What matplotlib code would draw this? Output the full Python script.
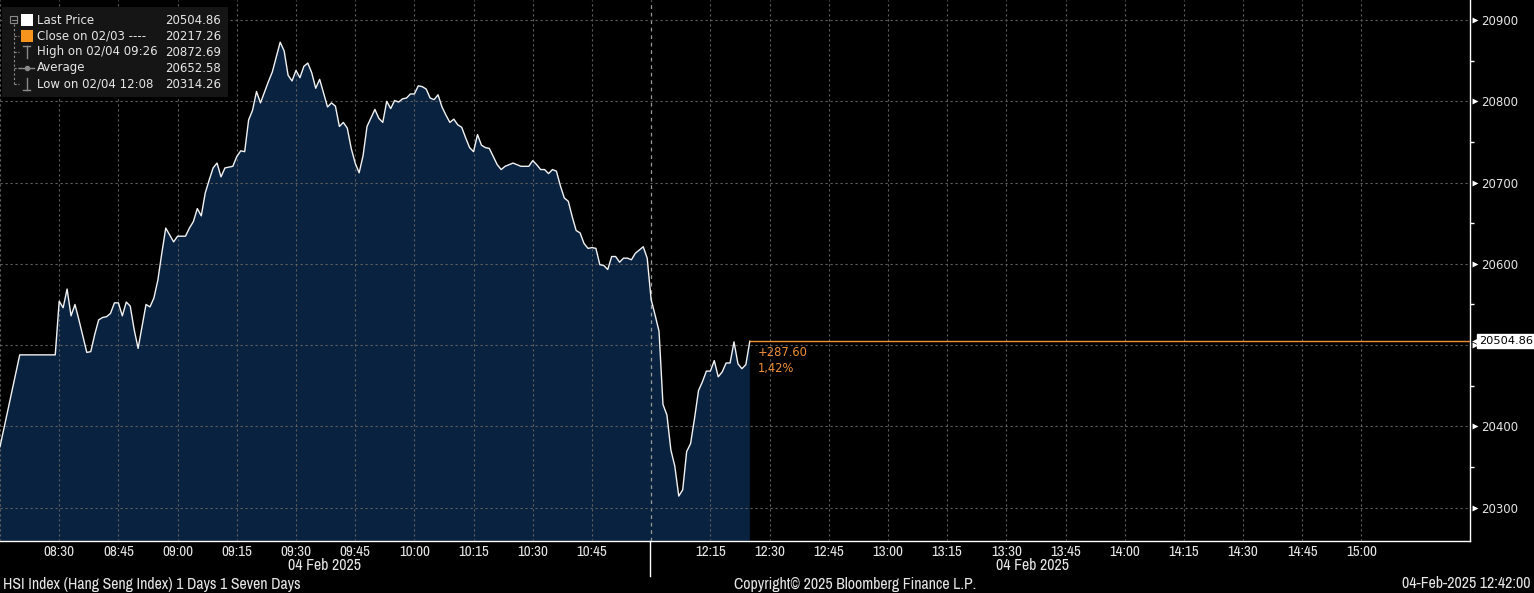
import matplotlib
matplotlib.use("Agg")
import matplotlib.pyplot as plt
from matplotlib import font_manager
from matplotlib.patches import Rectangle
from matplotlib.lines import Line2D

# intraday HSI, times as shown on the chart
times = ["08:15", "08:20", "08:29", "08:30", "08:31", "08:32", "08:33", "08:34", "08:35", "08:36",
         "08:37", "08:38", "08:39", "08:40", "08:41", "08:42", "08:43", "08:44", "08:45", "08:46",
         "08:47", "08:48", "08:49", "08:50", "08:52", "08:53", "08:54", "08:55", "08:56", "08:57",
         "08:59", "09:00", "09:02", "09:03", "09:04", "09:05", "09:06", "09:07", "09:08", "09:09",
         "09:10", "09:11", "09:12", "09:14", "09:15", "09:16", "09:17", "09:18", "09:19", "09:20",
         "09:21", "09:22", "09:23", "09:24", "09:26", "09:27", "09:28", "09:29", "09:30", "09:31",
         "09:32", "09:33", "09:34", "09:35", "09:36", "09:37", "09:38", "09:39", "09:40", "09:41",
         "09:42", "09:43", "09:44", "09:45", "09:46", "09:47", "09:48", "09:50", "09:51", "09:52",
         "09:53", "09:54", "09:55", "09:56", "09:57", "09:58", "09:59", "10:00", "10:01", "10:02",
         "10:03", "10:04", "10:05", "10:06", "10:07", "10:08", "10:09", "10:10", "10:11", "10:12",
         "10:13", "10:14", "10:15", "10:16", "10:17", "10:18", "10:19", "10:20", "10:21", "10:22",
         "10:23", "10:25", "10:27", "10:29", "10:30", "10:31", "10:32", "10:33", "10:34", "10:35",
         "10:36", "10:37", "10:38", "10:39", "10:40", "10:41", "10:42", "10:43", "10:44", "10:45",
         "10:46", "10:47", "10:48", "10:49", "10:50", "10:51", "10:52", "10:53", "10:54", "10:55",
         "10:56", "10:57", "10:58", "10:59",
         "12:00", "12:01", "12:02", "12:03", "12:04", "12:05", "12:06", "12:07", "12:08", "12:09",
         "12:10", "12:11", "12:12", "12:13", "12:14", "12:15", "12:16", "12:17", "12:18", "12:19",
         "12:20", "12:21", "12:22", "12:23", "12:24", "12:25"]
prices = [20375, 20488, 20488, 20554, 20546, 20569, 20536, 20550, 20531, 20511,
          20491, 20492, 20513, 20531, 20534, 20535, 20539, 20552, 20552, 20536,
          20553, 20548, 20519, 20496, 20550, 20547, 20558, 20580, 20613, 20644,
          20627, 20634, 20634, 20644, 20652, 20668, 20659, 20687, 20703, 20718,
          20724, 20707, 20718, 20720, 20732, 20739, 20738, 20777, 20789, 20812,
          20798, 20811, 20824, 20836, 20872.69, 20862, 20832, 20825, 20838, 20829,
          20843, 20847, 20835, 20816, 20827, 20810, 20793, 20798, 20794, 20769,
          20774, 20767, 20742, 20724, 20712, 20733, 20769, 20790, 20779, 20774,
          20800, 20791, 20801, 20799, 20803, 20804, 20809, 20809, 20819, 20818,
          20815, 20804, 20802, 20808, 20793, 20783, 20774, 20778, 20771, 20768,
          20755, 20743, 20738, 20759, 20746, 20743, 20742, 20732, 20722, 20716,
          20720, 20724, 20720, 20720, 20727, 20722, 20716, 20716, 20711, 20716,
          20714, 20696, 20681, 20677, 20658, 20641, 20638, 20625, 20619, 20620,
          20619, 20599, 20598, 20593, 20609, 20609, 20602, 20607, 20607, 20605,
          20613, 20617, 20621, 20607,
          20556, 20537, 20517, 20427, 20414, 20371, 20351, 20314.26, 20322, 20369,
          20379, 20410, 20444, 20455, 20468, 20468, 20481, 20461, 20467, 20478,
          20478, 20504, 20477, 20471, 20476, 20504.86]

tick_times = ["08:30", "08:45", "09:00", "09:15", "09:30", "09:45", "10:00", "10:15", "10:30", "10:45",
              "12:15", "12:30", "12:45", "13:00", "13:15", "13:30", "13:45", "14:00", "14:15", "14:30",
              "14:45", "15:00"]
y_ticks = [20300, 20400, 20500, 20600, 20700, 20800, 20900]
y_minor = [20350, 20450, 20550, 20650, 20750, 20850]

last_price = 20504.86
change = "+287.60"
change_pct = "1,42%"

legend_rows = [("Last Price", "20504.86"),
               ("Close on 02/03 ----", "20217.26"),
               ("High on 02/04 09:26", "20872.69"),
               ("Average", "20652.58"),
               ("Low on 02/04 12:08", "20314.26")]

footer_left = "HSI Index (Hang Seng Index) 1 Days 1 Seven Days"
footer_mid = "Copyright\u00a9 2025 Bloomberg Finance L.P."
footer_right = "04-Feb-2025 12:42:00"
date_label = "04 Feb 2025"


def to_t(s):
    # minutes on a collapsed axis: 08:15 -> 0, lunch 11:00-12:00 removed
    h, m = s.split(":")
    mins = int(h) * 60 + int(m)
    if mins < 12 * 60:
        return mins - (8 * 60 + 15)
    return mins - 12 * 60 + 165


t = [to_t(s) for s in times]
tick_t = [to_t(s) for s in tick_times]
brk = 165

# look for a narrow face for the axis/footer text
fonts = font_manager.fontManager.ttflist
narrow, tsize, fsize = None, 9.5, 9.5
for f in fonts:
    if "Narrow" in f.name:
        narrow, tsize, fsize = dict(family=f.name), 10.8, 11.4
        break
if narrow is None:
    for f in fonts:
        if "Condensed" in f.name:
            narrow = dict(family=f.name)
            break
        if f.stretch in ("condensed", "semi-condensed") and "Sans" in f.name:
            narrow = dict(family=f.name, fontstretch=f.stretch)
            break
if narrow is None:
    narrow, tsize, fsize = dict(family="Liberation Sans"), 9.3, 9.3

W, H = 1534, 593
fig = plt.figure(figsize=(W / 100, H / 100), dpi=100, facecolor="black")
ax = fig.add_axes([0, 52 / H, 1470 / W, 541 / H], facecolor="black")

fill_c = "#09223f"
grid_c = "#5f5f5f"
txt_c = "#e6e6e6"
orange = "#f0913a"

ax.fill_between(t, prices, 20000, color=fill_c, lw=0, zorder=1)
ax.plot(t, prices, color="#f2f2f2", lw=1.0, zorder=4)
ax.plot([t[-1], 400], [last_price, last_price], color=orange, lw=1.0, zorder=4)

ax.set_xlim(0, 372.5)
ax.set_ylim(20259, 20924.6)

for x in tick_t + [0]:
    ax.axvline(x, color=grid_c, lw=0.8, ls=(0, (2, 2.5)), zorder=3)
ax.axvline(brk, color="#9a9a9a", lw=0.9, ls=(0, (3, 3)), zorder=3)
for y in y_ticks:
    ax.axhline(y, color=grid_c, lw=0.8, ls=(0, (2, 2.5)), zorder=3)

for s in ["left", "top"]:
    ax.spines[s].set_visible(False)
for s in ["right", "bottom"]:
    ax.spines[s].set_color("white")
    ax.spines[s].set_linewidth(1.0)

ax.set_xticks(tick_t)
ax.set_xticklabels(tick_times, fontsize=tsize, color=txt_c, **narrow)
ax.tick_params(axis="x", length=0, pad=3)

ax.yaxis.tick_right()
ax.set_yticks(y_ticks)
ax.set_yticklabels([str(v) if v != 20500 else "" for v in y_ticks], fontsize=8.5, color=txt_c)
ax.set_yticks(y_minor, minor=True)
ax.tick_params(axis="y", which="major", length=0, pad=8)
ax.tick_params(axis="y", which="minor", length=3, width=1, color="white", direction="out")
ax.scatter([1.0035] * len(y_ticks), y_ticks, marker=">", s=18, color="white",
           transform=ax.get_yaxis_transform(), clip_on=False, zorder=5, lw=0)

# last price tag on the axis
ax.text(1.0062, last_price, "20504.86", transform=ax.get_yaxis_transform(), ha="left", va="center",
        fontsize=8.2, color="black", clip_on=False, zorder=6,
        bbox=dict(boxstyle="square,pad=0.15", fc="white", ec="white"))
ax.scatter([1.004], [last_price], marker="<", s=40, color="white",
           transform=ax.get_yaxis_transform(), clip_on=False, zorder=6, lw=0)

ax.annotate(change, (t[-1], last_price), xytext=(6, -8), textcoords="offset points",
            fontsize=8.3, color=orange, ha="left", va="center")
ax.annotate(change_pct, (t[-1], last_price), xytext=(6, -20), textcoords="offset points",
            fontsize=8.3, color=orange, ha="left", va="center")


def fx(x):
    return x / W


def fy(y):
    return 1 - y / H


# session separator below the axis and date labels
fig.add_artist(Line2D([fx(650), fx(650)], [fy(541), fy(576)], color="white", lw=1))
fig.text(fx(325), fy(566), date_label, fontsize=fsize, color=txt_c, ha="center", va="center", **narrow)
fig.text(fx(1032), fy(566), date_label, fontsize=fsize, color=txt_c, ha="center", va="center", **narrow)

fig.text(fx(3), fy(584), footer_left, fontsize=fsize, color=txt_c, ha="left", va="center", **narrow)
fig.text(fx(855), fy(584), footer_mid, fontsize=fsize, color=txt_c, ha="center", va="center", **narrow)
fig.text(fx(1531), fy(584), footer_right, fontsize=fsize, color=txt_c, ha="right", va="center", **narrow)

# legend panel
fig.add_artist(Rectangle((fx(2), fy(97)), fx(226), 90 / H, fc="#151515", ec="none", zorder=5))
row_y = [20, 36, 52, 68, 84]
for (lab, val), y in zip(legend_rows, row_y):
    fig.text(fx(37), fy(y), lab, fontsize=8.5, color=txt_c, ha="left", va="center", zorder=7)
    fig.text(fx(221), fy(y), val, fontsize=8.5, color=txt_c, ha="right", va="center", zorder=7)

tree_c = "#8a8a8a"
fig.add_artist(Rectangle((fx(10), fy(23)), fx(7), 7 / H, fc="none", ec=tree_c, lw=0.8, zorder=6))
fig.add_artist(Line2D([fx(11.5), fx(15.5)], [fy(19.5), fy(19.5)], color=tree_c, lw=0.8, zorder=6))
fig.add_artist(Line2D([fx(13.5), fx(13.5)], [fy(24), fy(84)], color=tree_c, lw=0.8, ls=(0, (2, 2)), zorder=6))
for y in row_y[1:]:
    fig.add_artist(Line2D([fx(13.5), fx(19)], [fy(y), fy(y)], color=tree_c, lw=0.8, ls=(0, (2, 1.5)), zorder=6))
fig.add_artist(Rectangle((fx(21), fy(26)), fx(12), 12 / H, fc="white", ec="none", zorder=6))
fig.add_artist(Rectangle((fx(21), fy(42)), fx(12), 12 / H, fc="#f7941d", ec="none", zorder=6))
# high marker
fig.add_artist(Line2D([fx(23), fx(30)], [fy(46), fy(46)], color=tree_c, lw=1, zorder=6))
fig.add_artist(Line2D([fx(26.5), fx(26.5)], [fy(46), fy(58)], color=tree_c, lw=1, zorder=6))
# average marker
fig.add_artist(Line2D([fx(19), fx(34)], [fy(68), fy(68)], color=tree_c, lw=1, zorder=6))
fig.add_artist(Line2D([fx(26.5)], [fy(68)], color=tree_c, marker="o", ms=3, zorder=6))
# low marker
fig.add_artist(Line2D([fx(23), fx(30)], [fy(90), fy(90)], color=tree_c, lw=1, zorder=6))
fig.add_artist(Line2D([fx(26.5), fx(26.5)], [fy(78), fy(90)], color=tree_c, lw=1, zorder=6))

fig.savefig("out.png", dpi=100, facecolor="black")
